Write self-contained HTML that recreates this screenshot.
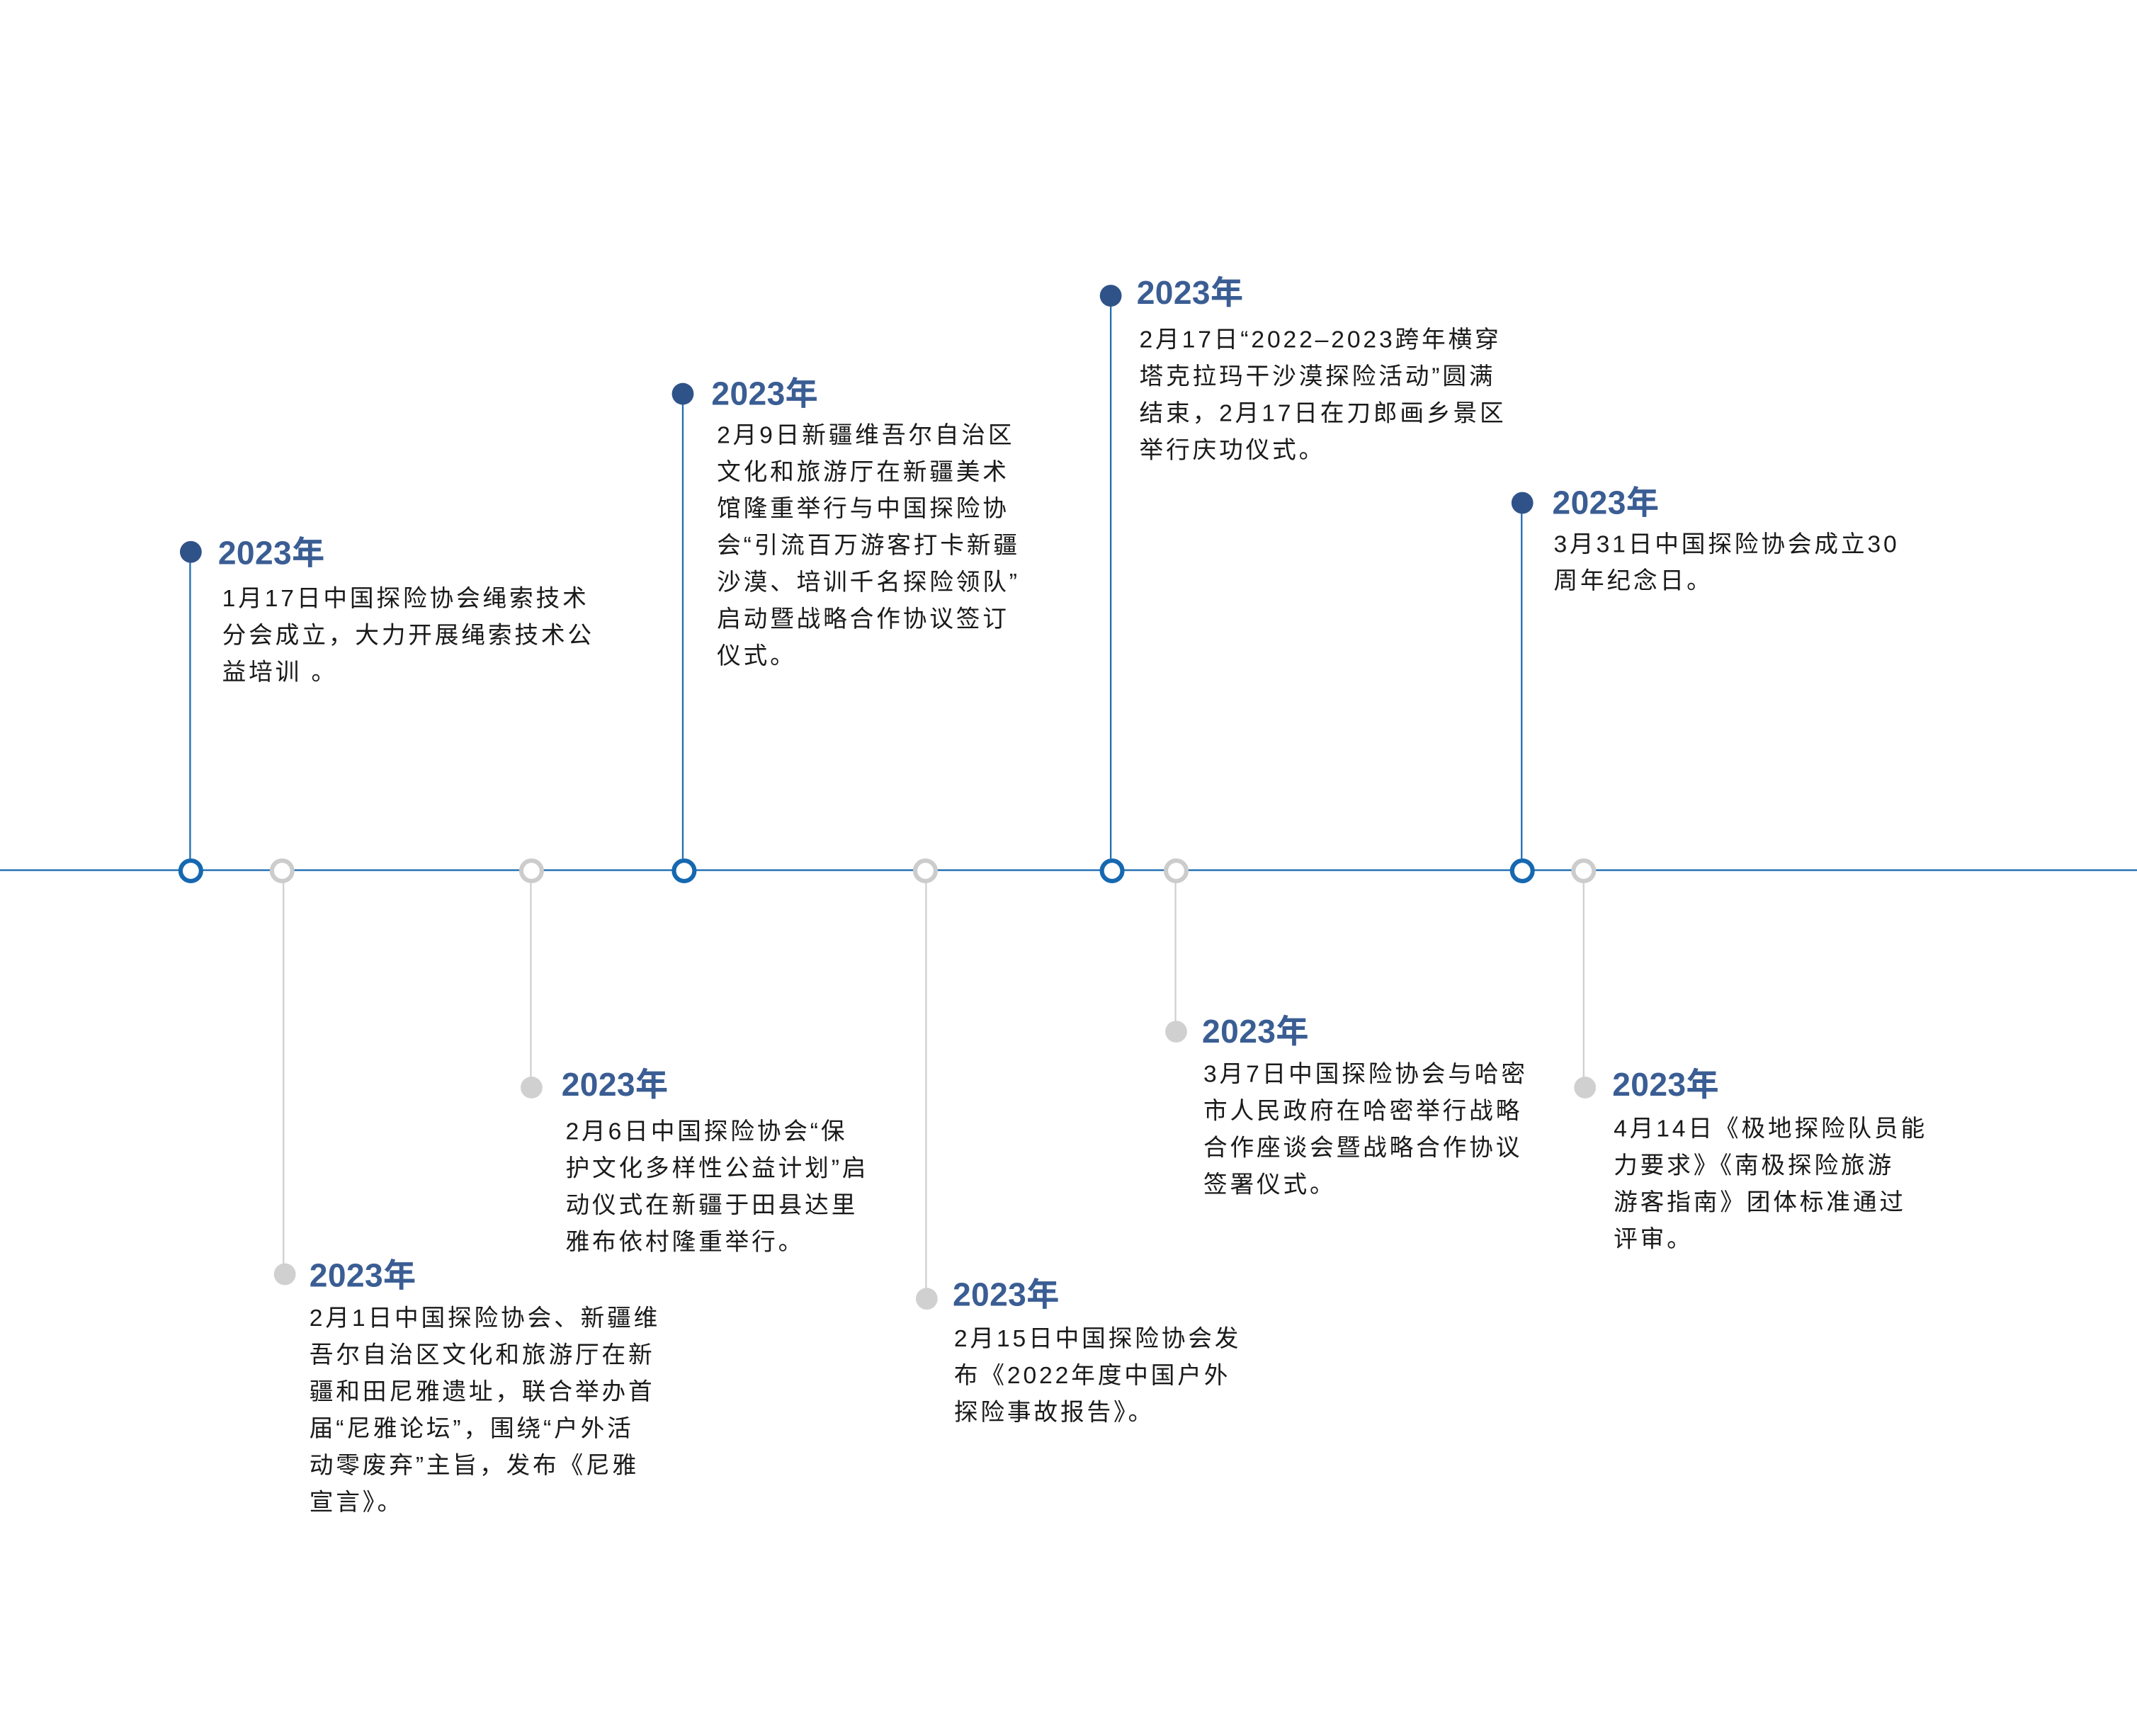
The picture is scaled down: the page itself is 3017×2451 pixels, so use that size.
<!DOCTYPE html>
<html><head><meta charset="utf-8"><style>
html,body{margin:0;padding:0;background:#fff;}
body{width:3017px;height:2450px;overflow:hidden;position:relative;}
#w{position:absolute;left:0;top:0;width:1568px;height:1274px;transform:scale(1.9241);transform-origin:0 0;}
svg{position:absolute;left:0;top:0;}
.y{position:absolute;font-family:"Liberation Sans","Noto Sans CJK SC",sans-serif;font-weight:bold;font-size:24px;letter-spacing:0.2px;color:#3a5d93;line-height:26px;white-space:nowrap;}
.b{position:absolute;font-family:"Liberation Sans","Noto Sans CJK SC",sans-serif;font-size:17.5px;letter-spacing:2.0px;line-height:27px;color:#1a1a1a;white-space:nowrap;}
</style></head><body><div id="w">
<svg width="1568" height="1274" viewBox="0 0 1568 1274">
<line x1="0" y1="638.5" x2="1568" y2="638.5" stroke="#1f6db3" stroke-width="1.2"/>
<g stroke="#1f6db3" stroke-width="1.2">
<line x1="139.5" y1="405" x2="139.5" y2="630"/>
<line x1="501" y1="289" x2="501" y2="630"/>
<line x1="815" y1="217" x2="815" y2="630"/>
<line x1="1116.5" y1="369" x2="1116.5" y2="630"/>
</g>
<g stroke="#d0d0d0" stroke-width="1.2">
<line x1="208" y1="647" x2="208" y2="935"/>
<line x1="389.5" y1="647" x2="389.5" y2="798"/>
<line x1="679.5" y1="647" x2="679.5" y2="953"/>
<line x1="862.5" y1="647" x2="862.5" y2="757"/>
<line x1="1162" y1="647" x2="1162" y2="798"/>
</g>
<g fill="#2f5289">
<circle cx="140" cy="405" r="8"/><circle cx="501" cy="289" r="8"/><circle cx="815" cy="217" r="8"/><circle cx="1117" cy="369" r="8"/>
</g>
<g fill="#fff" stroke="#1668b0" stroke-width="3.2">
<circle cx="140" cy="639" r="7.5"/><circle cx="502" cy="639" r="7.5"/><circle cx="816" cy="639" r="7.5"/><circle cx="1117" cy="639" r="7.5"/>
</g>
<g fill="#fff" stroke="#cccccc" stroke-width="3.2">
<circle cx="207" cy="639" r="7.5"/><circle cx="390" cy="639" r="7.5"/><circle cx="679" cy="639" r="7.5"/><circle cx="863" cy="639" r="7.5"/><circle cx="1162" cy="639" r="7.5"/>
</g>
<g fill="#d0d0d0">
<circle cx="209" cy="935" r="8"/><circle cx="390" cy="798" r="8"/><circle cx="680" cy="953" r="8"/><circle cx="863" cy="757" r="8"/><circle cx="1163" cy="798" r="8"/>
</g>
</svg>

<div class="y" style="left:160px;top:394px">2023年</div>
<div class="b" style="left:163px;top:426px">1月17日中国探险协会绳索技术<br>分会成立，大力开展绳索技术公<br>益培训 。</div>

<div class="y" style="left:522px;top:277px">2023年</div>
<div class="b" style="left:526px;top:306px">2月9日新疆维吾尔自治区<br>文化和旅游厅在新疆美术<br>馆隆重举行与中国探险协<br>会“引流百万游客打卡新疆<br>沙漠、培训千名探险领队”<br>启动暨战略合作协议签订<br>仪式。</div>

<div class="y" style="left:834px;top:203px">2023年</div>
<div class="b" style="left:836px;top:236px">2月17日“2022–2023跨年横穿<br>塔克拉玛干沙漠探险活动”圆满<br>结束，2月17日在刀郎画乡景区<br>举行庆功仪式。</div>

<div class="y" style="left:1139px;top:357px">2023年</div>
<div class="b" style="left:1140px;top:386px">3月31日中国探险协会成立30<br>周年纪念日。</div>

<div class="y" style="left:227px;top:924px">2023年</div>
<div class="b" style="left:227px;top:954px">2月1日中国探险协会、新疆维<br>吾尔自治区文化和旅游厅在新<br>疆和田尼雅遗址，联合举办首<br>届“尼雅论坛”，围绕“户外活<br>动零废弃”主旨，发布《尼雅<br>宣言》。</div>

<div class="y" style="left:412px;top:784px">2023年</div>
<div class="b" style="left:415px;top:817px">2月6日中国探险协会“保<br>护文化多样性公益计划”启<br>动仪式在新疆于田县达里<br>雅布依村隆重举行。</div>

<div class="y" style="left:699px;top:938px">2023年</div>
<div class="b" style="left:700px;top:969px">2月15日中国探险协会发<br>布《2022年度中国户外<br>探险事故报告》。</div>

<div class="y" style="left:882px;top:745px">2023年</div>
<div class="b" style="left:883px;top:775px">3月7日中国探险协会与哈密<br>市人民政府在哈密举行战略<br>合作座谈会暨战略合作协议<br>签署仪式。</div>

<div class="y" style="left:1183px;top:784px">2023年</div>
<div class="b" style="left:1184px;top:815px">4月14日《极地探险队员能<br>力要求》《南极探险旅游<br>游客指南》团体标准通过<br>评审。</div>
</div></body></html>
